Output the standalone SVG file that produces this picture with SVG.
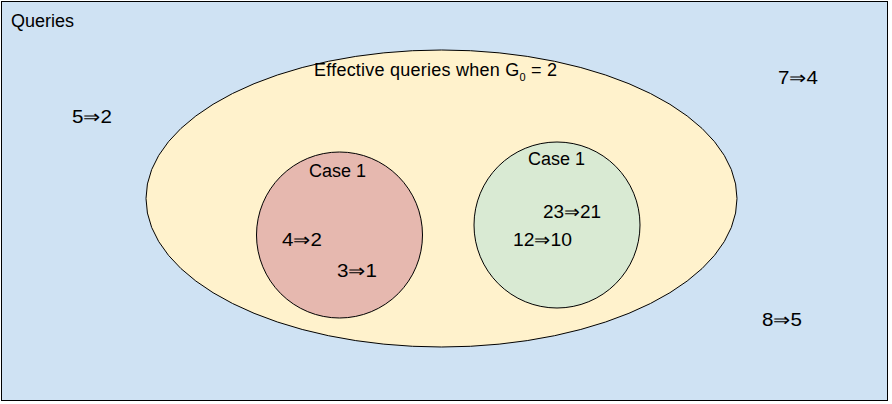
<svg xmlns="http://www.w3.org/2000/svg" width="892" height="404" viewBox="0 0 892 404">
<style>
text{font-family:"Liberation Sans",Arial,sans-serif;font-size:18px;fill:#000}
.sh{stroke:#000;stroke-width:1}
</style>
<rect width="892" height="404" fill="#fff"/>
<g id="queries">
<rect class="sh" x="1.5" y="1.5" width="886" height="399" fill="#cfe2f3"/>
<text x="11" y="27">Queries</text>
</g>
<g id="effective">
<ellipse class="sh" cx="441.5" cy="198.5" rx="295.5" ry="148.5" fill="#fff2cc"/>
<text x="314" y="76" textLength="243" lengthAdjust="spacing">Effective queries when G<tspan font-size="11" dy="5">0</tspan><tspan dy="-5"> = 2</tspan></text>
</g>
<g id="case1-red">
<circle class="sh" cx="339.5" cy="235" r="83" fill="#e6b8af"/>
<text x="309" y="177">Case 1</text>
<text x="282" y="246" textLength="40" lengthAdjust="spacingAndGlyphs">4⇒2</text>
<text x="337" y="277" textLength="40" lengthAdjust="spacingAndGlyphs">3⇒1</text>
</g>
<g id="case1-green">
<circle class="sh" cx="557" cy="225" r="83" fill="#d9ead3"/>
<text x="528" y="165">Case 1</text>
<text x="543" y="218" textLength="58" lengthAdjust="spacingAndGlyphs">23⇒21</text>
<text x="513" y="246" textLength="59" lengthAdjust="spacingAndGlyphs">12⇒10</text>
</g>
<g id="outside">
<text x="72" y="123" textLength="40" lengthAdjust="spacingAndGlyphs">5⇒2</text>
<text x="778" y="84" textLength="40" lengthAdjust="spacingAndGlyphs">7⇒4</text>
<text x="762" y="326" textLength="40" lengthAdjust="spacingAndGlyphs">8⇒5</text>
</g>
<g id="connectors"></g>
</svg>
